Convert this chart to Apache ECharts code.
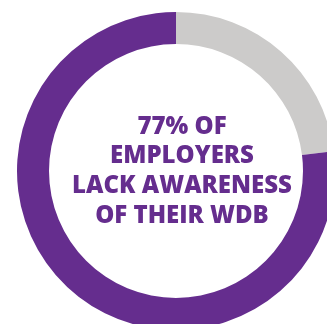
<!DOCTYPE html>
<html lang="en">
<head>
<meta charset="UTF-8">
<title>WDB awareness</title>
<script src="https://cdn.jsdelivr.net/npm/echarts@6/dist/echarts.min.js"></script>
<style>
  body { margin: 0; padding: 0; background: #fff; }
  #main { width: 327px; height: 324px; }
</style>
</head>
<body>
<div id="main"></div>
<script>
  // share of employers (gray slice first so it starts at 12 o'clock)
  var names = ['Aware of their WDB', 'Lack awareness'];
  var values = [23, 77];
  var colors = ['#cccbca', '#652d8e'];
  var headline = ['77% OF', 'EMPLOYERS', 'LACK AWARENESS', 'OF THEIR WDB'];

  var chart = echarts.init(document.getElementById('main'));
  chart.setOption({
    animation: false,
    title: {
      text: headline.join('\n'),
      left: 177,
      top: 107,
      textAlign: 'center',
      textStyle: {
        fontFamily: 'Open Sans',
        fontWeight: 800,
        fontSize: 24,
        lineHeight: 29.7,
        color: '#652d8e'
      }
    },
    series: [{
      type: 'pie',
      center: [176, 171],
      radius: [127, 159],
      startAngle: 90,
      clockwise: true,
      silent: true,
      label: { show: false },
      labelLine: { show: false },
      itemStyle: { borderWidth: 0 },
      data: names.map(function (n, i) {
        return { name: n, value: values[i], itemStyle: { color: colors[i] } };
      })
    }]
  });
</script>
</body>
</html>
